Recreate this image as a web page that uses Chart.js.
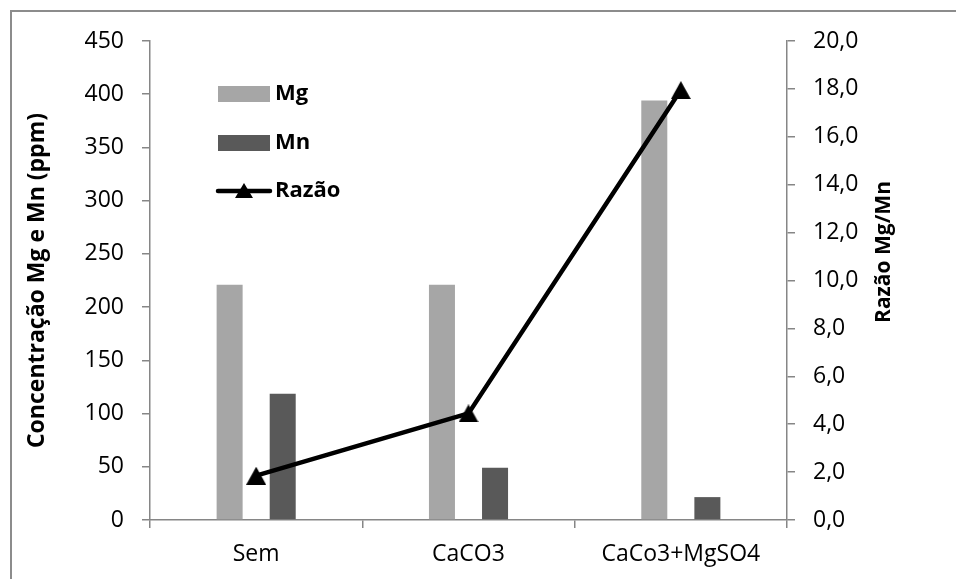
<!DOCTYPE html>
<html>
<head>
<meta charset="utf-8">
<script src="https://cdn.jsdelivr.net/npm/chart.js@4/dist/chart.umd.min.js"></script>
<style>
  html, body { margin: 0; padding: 0; background: #fff; overflow: hidden; }
  #wrap { position: relative; width: 956px; height: 579px; }
  #frame { position: absolute; left: 10px; top: 10px; width: 1000px; height: 1000px; border: 2px solid #8c8c8c; box-sizing: border-box; pointer-events: none; }
  canvas { position: absolute; left: 0; top: 0; }
</style>
</head>
<body>
<div id="wrap">
  <canvas id="c" width="956" height="579"></canvas>
  <div id="frame"></div>
</div>
<script>
const categories = ["Sem", "CaCO3", "CaCo3+MgSO4"];
const mgValues = [221, 221, 394];
const mnValues = [118.5, 49, 21.5];
const ratioValues = [1.85, 4.45, 17.95];
const seriesNames = ["Mg", "Mn", "Razão"];
const leftTitle = "Concentração Mg e Mn (ppm)";
const rightTitle = "Razão Mg/Mn";

const FONT = "'Open Sans', 'Noto Sans', sans-serif";
const AXIS = "#868686";

// triangle marker centered on its bounding box (Excel-like)
function triangleImg(w, h) {
  const cv = document.createElement('canvas');
  cv.width = w; cv.height = h;
  const g = cv.getContext('2d');
  g.fillStyle = '#000';
  g.beginPath();
  g.moveTo(w / 2, 0);
  g.lineTo(w, h);
  g.lineTo(0, h);
  g.closePath();
  g.fill();
  return cv;
}
const tri = triangleImg(20, 18);
const triSmall = triangleImg(18, 15);

const overlay = {
  id: 'overlay',
  afterDraw(chart) {
    const ctx = chart.ctx;
    ctx.save();
    // legend
    const ds = chart.data.datasets;
    const rows = [94, 143, 191];
    ctx.font = "bold 22px " + FONT;
    ctx.textBaseline = 'middle';
    ctx.textAlign = 'left';
    ds.forEach((d, i) => {
      const y = rows[i];
      if (d.type === 'line') {
        ctx.strokeStyle = d.borderColor;
        ctx.lineWidth = 4.5;
        ctx.lineCap = 'round';
        ctx.beginPath();
        ctx.moveTo(218, y);
        ctx.lineTo(270, y);
        ctx.stroke();
        ctx.drawImage(triSmall, 244 - 9, y - 8);
      } else {
        ctx.fillStyle = d.backgroundColor;
        ctx.fillRect(218, y - 8, 52, 16);
      }
      ctx.fillStyle = '#000';
      ctx.fillText(d.label, 275, y);
    });
    // right axis title (reads bottom-to-top)
    ctx.font = "bold 21px " + FONT;
    ctx.translate(884, 252);
    ctx.rotate(-Math.PI / 2);
    ctx.textAlign = 'center';
    ctx.fillText(rightTitle, 0, 0);
    ctx.restore();
  }
};

new Chart(document.getElementById('c'), {
  type: 'bar',
  data: {
    labels: categories,
    datasets: [
      { label: seriesNames[0], data: mgValues, backgroundColor: '#a6a6a6', yAxisID: 'y', order: 2,
        categoryPercentage: 0.5, barPercentage: 0.49 },
      { label: seriesNames[1], data: mnValues, backgroundColor: '#595959', yAxisID: 'y', order: 2,
        categoryPercentage: 0.5, barPercentage: 0.49 },
      { type: 'line', label: seriesNames[2], data: ratioValues, yAxisID: 'y1',
        borderColor: '#000', backgroundColor: '#000', borderWidth: 4.5,
        pointStyle: tri, pointRadius: 10, tension: 0, order: 0 }
    ]
  },
  options: {
    responsive: false,
    animation: false,
    events: [],
    layout: { padding: { top: 41, right: 0, bottom: 0, left: 0 } },
    plugins: { legend: { display: false }, tooltip: { enabled: false } },
    scales: {
      x: {
        grid: { display: true, offset: true, drawOnChartArea: false, drawTicks: true, tickLength: 8, color: AXIS, lineWidth: 1.5 },
        border: { display: true, color: AXIS, width: 1.5 },
        ticks: { color: '#000', font: { family: FONT, size: 23 }, padding: 13, maxRotation: 0 },
        afterFit(s) { s.height = 59; }
      },
      y: {
        position: 'left', min: 0, max: 450,
        grid: { display: true, drawOnChartArea: false, drawTicks: true, tickLength: 8, color: AXIS, lineWidth: 1.5 },
        border: { display: true, color: AXIS, width: 1.5 },
        ticks: { stepSize: 50, color: '#000', font: { family: FONT, size: 23 }, padding: 18 },
        title: { display: true, text: leftTitle, color: '#000', font: { family: FONT, size: 23, weight: 'bold' }, padding: { top: 24, bottom: 0 } },
        afterFit(s) { s.width = 150; }
      },
      y1: {
        position: 'right', min: 0, max: 20,
        grid: { display: true, drawOnChartArea: false, drawTicks: true, tickLength: 8, color: AXIS, lineWidth: 1.5 },
        border: { display: true, color: AXIS, width: 1.5 },
        ticks: { stepSize: 2, color: '#000', font: { family: FONT, size: 23 }, padding: 18,
          callback: v => v.toFixed(1).replace('.', ',') },
        afterFit(s) { s.width = 169; }
      }
    }
  },
  plugins: [overlay]
});
</script>
</body>
</html>
